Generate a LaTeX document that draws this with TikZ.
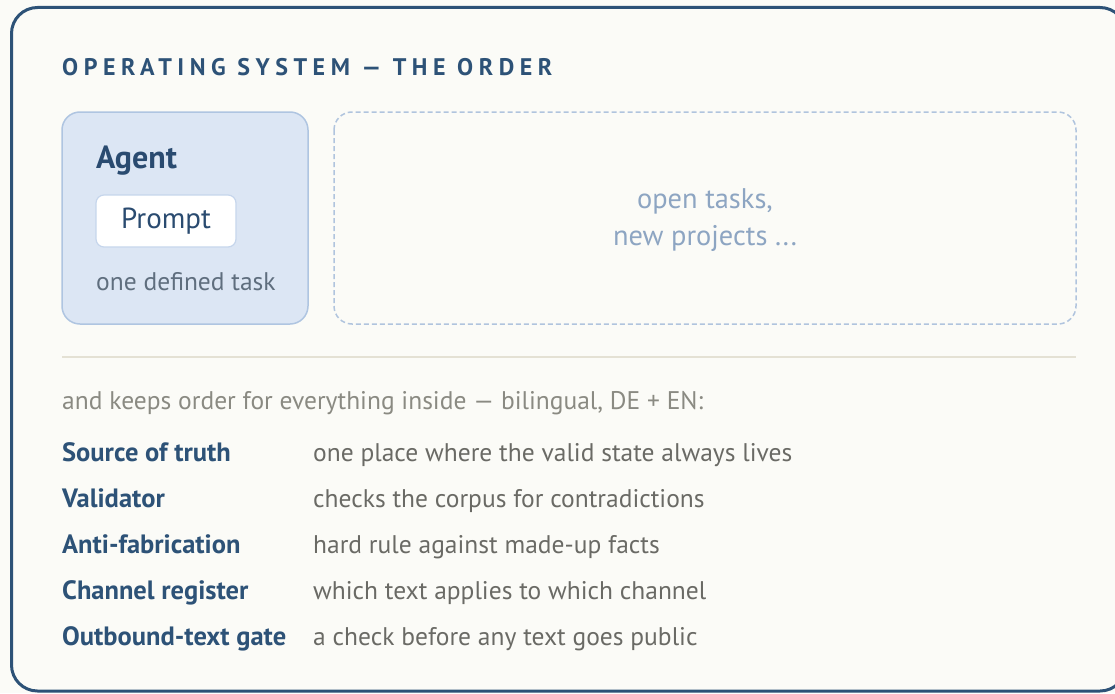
\documentclass[tikz,border=0pt]{standalone}
\usepackage{fontspec}
\setmainfont{PT Sans}
\newfontfamily\titlefont[LetterSpace=23]{PT Sans}
\definecolor{bg}{HTML}{FBFBF7}
\definecolor{frame}{HTML}{2D5277}
\definecolor{agentfill}{HTML}{DCE6F4}
\definecolor{agentline}{HTML}{AFC5E1}
\definecolor{promptline}{HTML}{C6D6EC}
\definecolor{navy}{HTML}{2A4B70}
\definecolor{subgray}{HTML}{5F6E7E}
\definecolor{dashline}{HTML}{B0C4DE}
\definecolor{opentext}{HTML}{8DA5C2}
\definecolor{sep}{HTML}{E4E1D4}
\definecolor{intro}{HTML}{8A8A82}
\definecolor{desc}{HTML}{6A6A65}
\tikzset{
  txt/.style={inner sep=0pt, anchor=base west},
  term/.style={txt, font=\fontsize{26.5}{30}\selectfont\bfseries, text=frame},
  descr/.style={txt, font=\fontsize{25.5}{30}\selectfont, text=desc},
}
\begin{document}
\begin{tikzpicture}[x=1pt,y=-1pt]
\useasboundingbox (0,0) rectangle (1115,693);
\fill[bg] (0,0) rectangle (1115,693);
\draw[frame, line width=3pt, rounded corners=26pt, fill=bg] (11.5,7.5) rectangle (1126,691);
\node[txt, font=\titlefont\fontsize{24}{28}\selectfont\bfseries, text=frame] (title) at (62,75) {OPERATING SYSTEM — THE ORDER};
\draw[agentline, line width=1.5pt, rounded corners=18pt, fill=agentfill] (62,112) rectangle (308,324);
\node[txt, font=\fontsize{32}{36}\selectfont\bfseries, text=navy] (agent) at (96,168) {Agent};
\node[draw=promptline, line width=1.2pt, fill=white, rounded corners=8pt, minimum width=140pt, minimum height=52pt, inner sep=0pt, font=\fontsize{29}{32}\selectfont, text=navy] (prompt) at (166,221) {Prompt};
\node[txt, font=\fontsize{25.5}{30}\selectfont, text=subgray] (task) at (96,290) {one defined task};
\draw[dashline, line width=1.5pt, dash pattern=on 5pt off 3pt, rounded corners=18pt] (334,112) rectangle (1076,324);
\node[font=\fontsize{28.4}{37}\selectfont, text=opentext, align=center] (open) at (705,220) {open tasks,\\new projects ...};
\draw[sep, line width=1.5pt] (62,357) -- (1076,357);
\node[txt, font=\fontsize{25.5}{30}\selectfont, text=intro] (introtext) at (62,409) {and keeps order for everything inside — bilingual, DE + EN:};
\node[term] (t1) at (62,461.5) {Source of truth};
\node[descr] (d1) at (313,461.5) {one place where the valid state always lives};
\node[term] (t2) at (62,507.5) {Validator};
\node[descr] (d2) at (313,507.5) {checks the corpus for contradictions};
\node[term] (t3) at (62,553.5) {Anti-fabrication};
\node[descr] (d3) at (313,553.5) {hard rule against made-up facts};
\node[term] (t4) at (62,599.5) {Channel register};
\node[descr] (d4) at (313,599.5) {which text applies to which channel};
\node[term] (t5) at (62,645.5) {Outbound-text gate};
\node[descr] (d5) at (313,645.5) {a check before any text goes public};
\end{tikzpicture}
\end{document}
